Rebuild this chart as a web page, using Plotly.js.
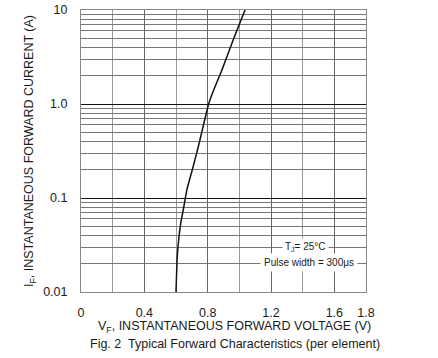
<!DOCTYPE html>
<html><head><meta charset="utf-8">
<script src="https://cdn.plot.ly/plotly-3.0.1.min.js"></script>
<style>html,body{margin:0;padding:0;background:#fff}#c{width:438px;height:358px}</style>
</head><body><div id="c"></div>
<script>
// Curve data (V_F in volts, I_F in amps)
const vf = [0.600, 0.608, 0.630, 0.646, 0.659, 0.670, 0.703, 0.737, 0.806, 0.838, 0.886, 0.965, 1.036];
const iF = [0.01, 0.024, 0.054, 0.075, 0.10, 0.125, 0.20, 0.33, 1.0, 1.41, 2.21, 5.0, 10];

const xTickVals = [0, 0.4, 0.8, 1.2, 1.6, 1.8];
const xTickText = ['0', '0.4', '0.8', '1.2', '1.6', '1.8'];
const xMinorVals = [0.2, 0.6, 1.0, 1.4];
const yTickVals = [0.01, 0.1, 1, 10];
const yTickText = ['0.01', '0.1', '1.0', '10'];
const decades = [0.01, 0.1, 1];
const yMinorVals = [];
decades.forEach(d => { for (let k = 2; k <= 9; k++) yMinorVals.push(+(d * k).toPrecision(3)); });

const font = {family: 'Liberation Sans, Arial, sans-serif', size: 12.5, color: '#1a1a1a'};

Plotly.newPlot('c', [{
  x: vf, y: iF, type: 'scatter', mode: 'lines',
  line: {color: '#111', width: 1.5, shape: 'spline', smoothing: 0.3},
  hoverinfo: 'skip'
}], {
  width: 438, height: 358,
  margin: {l: 81, r: 72, t: 10, b: 66},
  paper_bgcolor: '#fff', plot_bgcolor: '#fff',
  showlegend: false,
  font: font,
  xaxis: {
    range: [0, 1.8], tickmode: 'array', tickvals: xTickVals, ticktext: xTickText,
    showgrid: true, gridcolor: '#666', gridwidth: 1, zeroline: false,
    ticks: 'outside', ticklen: 9, tickcolor: 'rgba(0,0,0,0)',
    showline: true, linecolor: '#888', mirror: true,
    minor: {tickmode: 'array', tickvals: xMinorVals, showgrid: true, gridcolor: '#999', ticks: ''},
    title: {text: ''}, tickfont: font
  },
  yaxis: {
    type: 'log', range: [-2, 1], tickmode: 'array', tickvals: yTickVals, ticktext: yTickText,
    showgrid: true, gridcolor: '#111', gridwidth: 1, zeroline: false,
    ticks: 'outside', ticklen: 10, tickcolor: 'rgba(0,0,0,0)',
    showline: true, linecolor: '#888', mirror: true,
    minor: {tickmode: 'array', tickvals: yMinorVals, showgrid: true, gridcolor: '#777', ticks: ''},
    title: {text: 'I<sub>F</sub>, INSTANTANEOUS FORWARD CURRENT (A)', font: font, standoff: 6},
    tickfont: font
  },
  annotations: [
    {xref: 'paper', yref: 'paper', x: 0.54, y: -0.125, xanchor: 'center', yanchor: 'middle', showarrow: false,
     text: 'V<sub>F</sub>, INSTANTANEOUS FORWARD VOLTAGE (V)', font: font},
    {xref: 'paper', yref: 'paper', x: 0.54, y: -0.185, xanchor: 'center', yanchor: 'middle', showarrow: false,
     text: 'Fig. 2  Typical Forward Characteristics (per element)', font: font},
    {x: 1.415, y: Math.log10(0.030), xanchor: 'center', yanchor: 'middle', showarrow: false,
     text: 'T<sub>J</sub>= 25°C', bgcolor: '#fff', borderpad: 2,
     font: {family: font.family, size: 10, color: '#1a1a1a'}},
    {x: 1.44, y: Math.log10(0.0204), xanchor: 'center', yanchor: 'middle', showarrow: false,
     text: 'Pulse width = 300μs', bgcolor: '#fff', borderpad: 3,
     font: {family: font.family, size: 10, color: '#1a1a1a'}}
  ]
}, {staticPlot: true, displayModeBar: false});
</script></body></html>
